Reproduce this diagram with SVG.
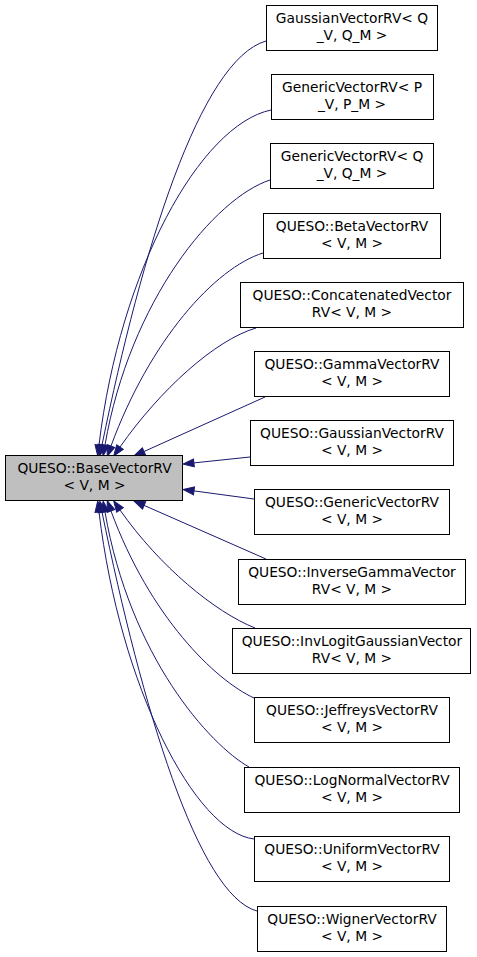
<svg xmlns="http://www.w3.org/2000/svg" width="477" height="957" viewBox="0 0 477 957">
<style>
.node rect{fill:#ffffff;stroke:#000000;stroke-width:1}
#base rect{fill:#bfbfbf}
.node text{font-family:"DejaVu Sans","Liberation Sans",sans-serif;font-size:13.8px;fill:#000000;text-anchor:middle}
.edge{fill:none;stroke:#191970;stroke-width:1;marker-end:url(#arr)}
</style>
<defs>
<marker id="arr" viewBox="-1 -1 13 10" refX="0" refY="4" markerWidth="13" markerHeight="10" markerUnits="userSpaceOnUse" orient="auto">
<path d="M0,0 L11,4 L0,8 Z" fill="#191970" stroke="#191970" stroke-width="1"/>
</marker>
</defs>
<g id="edges">
<path class="edge" d="M266,41 C200,60 142,250 102,445"/>
<path class="edge" d="M271,110 C200,125 120,270 99,445"/>
<path class="edge" d="M270,180 C215,198 130,300 105,445"/>
<path class="edge" d="M263,253 C215,268 150,340 111,446"/>
<path class="edge" d="M256,328 C215,340 160,390 120,447"/>
<path class="edge" d="M265,397 L144,451.5"/>
<path class="edge" d="M250,457 L193.9,462.9"/>
<path class="edge" d="M254,499 L194,490.9"/>
<path class="edge" d="M266,559 L144.1,505.4"/>
<path class="edge" d="M255,628 C215,612 160,567 120,510"/>
<path class="edge" d="M254,698 C215,680 150,617 111,511"/>
<path class="edge" d="M249,767 C210,745 130,657 105,512"/>
<path class="edge" d="M254,839 C195,832 120,687 99,512"/>
<path class="edge" d="M257,911 C198,895 142,707 102,512"/>
</g>
<g id="base" class="node"><rect x="5.5" y="455.5" width="177" height="45"/><text x="94.5" y="473">QUESO::BaseVectorRV</text><text x="94.5" y="489.5">&lt; V, M &gt;</text></g>
<g id="n1" class="node"><rect x="266.5" y="5.5" width="171" height="45"/><text x="352" y="23">GaussianVectorRV&lt; Q</text><text x="352" y="39.5">_V, Q_M &gt;</text></g>
<g id="n2" class="node"><rect x="271.5" y="74.5" width="162" height="45"/><text x="352" y="92">GenericVectorRV&lt; P</text><text x="352" y="108.5">_V, P_M &gt;</text></g>
<g id="n3" class="node"><rect x="270.5" y="143.5" width="163" height="45"/><text x="352" y="161">GenericVectorRV&lt; Q</text><text x="352" y="177.5">_V, Q_M &gt;</text></g>
<g id="n4" class="node"><rect x="263.5" y="213.5" width="177" height="45"/><text x="352" y="231">QUESO::BetaVectorRV</text><text x="352" y="247.5">&lt; V, M &gt;</text></g>
<g id="n5" class="node"><rect x="240.5" y="282.5" width="223" height="45"/><text x="352" y="300">QUESO::ConcatenatedVector</text><text x="352" y="316.5">RV&lt; V, M &gt;</text></g>
<g id="n6" class="node"><rect x="254.5" y="351.5" width="195" height="45"/><text x="352" y="369">QUESO::GammaVectorRV</text><text x="352" y="385.5">&lt; V, M &gt;</text></g>
<g id="n7" class="node"><rect x="250.5" y="420.5" width="203" height="45"/><text x="352" y="438">QUESO::GaussianVectorRV</text><text x="352" y="454.5">&lt; V, M &gt;</text></g>
<g id="n8" class="node"><rect x="254.5" y="489.5" width="195" height="45"/><text x="352" y="507">QUESO::GenericVectorRV</text><text x="352" y="523.5">&lt; V, M &gt;</text></g>
<g id="n9" class="node"><rect x="238.5" y="559.5" width="227" height="45"/><text x="352" y="577">QUESO::InverseGammaVector</text><text x="352" y="593.5">RV&lt; V, M &gt;</text></g>
<g id="n10" class="node"><rect x="232.5" y="628.5" width="238" height="45"/><text x="352" y="646">QUESO::InvLogitGaussianVector</text><text x="352" y="662.5">RV&lt; V, M &gt;</text></g>
<g id="n11" class="node"><rect x="254.5" y="697.5" width="195" height="45"/><text x="352" y="715">QUESO::JeffreysVectorRV</text><text x="352" y="731.5">&lt; V, M &gt;</text></g>
<g id="n12" class="node"><rect x="244.5" y="767.5" width="215" height="45"/><text x="352" y="785">QUESO::LogNormalVectorRV</text><text x="352" y="801.5">&lt; V, M &gt;</text></g>
<g id="n13" class="node"><rect x="254.5" y="836.5" width="195" height="45"/><text x="352" y="854">QUESO::UniformVectorRV</text><text x="352" y="870.5">&lt; V, M &gt;</text></g>
<g id="n14" class="node"><rect x="257.5" y="906.5" width="189" height="45"/><text x="352" y="924">QUESO::WignerVectorRV</text><text x="352" y="940.5">&lt; V, M &gt;</text></g>
</svg>
